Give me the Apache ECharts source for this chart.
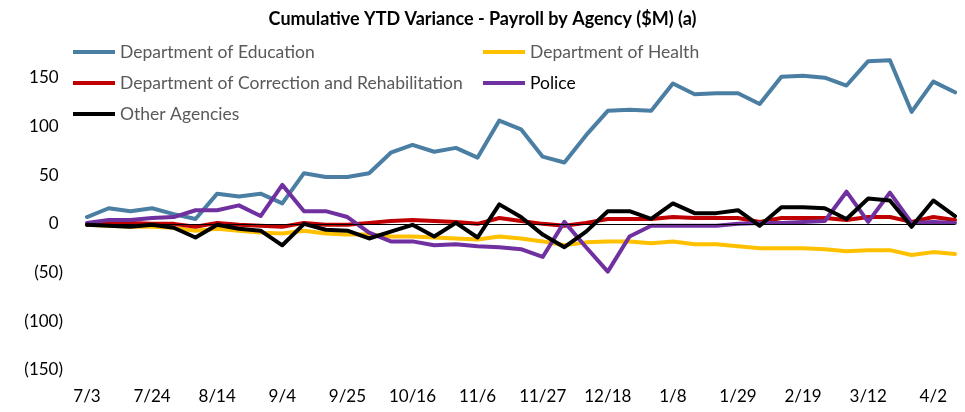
<!DOCTYPE html>
<html>
<head>
<meta charset="utf-8">
<script src="https://cdn.jsdelivr.net/npm/echarts@6/dist/echarts.min.js"></script>
<style>
html, body { margin: 0; padding: 0; background: #fff; }
#main { width: 965px; height: 412px; }
</style>
</head>
<body>
<div id="main"></div>
<script>
var weeks = ['7/3', '7/10', '7/17', '7/24', '7/31', '8/7', '8/14', '8/21', '8/28', '9/4',
             '9/11', '9/18', '9/25', '10/2', '10/9', '10/16', '10/23', '10/30', '11/6', '11/13',
             '11/20', '11/27', '12/4', '12/11', '12/18', '12/25', '1/1', '1/8', '1/15', '1/22',
             '1/29', '2/5', '2/12', '2/19', '2/26', '3/5', '3/12', '3/19', '3/26', '4/2', '4/9'];

var education  = [7, 16, 13, 16, 10, 5, 31, 28, 31, 21, 52, 48, 48, 52, 73, 81, 74, 78, 68, 106,
                  97, 69, 63, 91, 116, 117, 116, 144, 133, 134, 134, 123, 151, 152, 150, 142, 167, 168, 115, 146, 135];
var health     = [-1, -2, -3, -3, -4, -7, -5, -7, -9, -10, -7, -10, -11, -11, -13, -13, -14, -15, -16, -13,
                  -15, -18, -22, -19, -18, -18, -20, -18, -21, -21, -23, -25, -25, -25, -26, -28, -27, -27, -32, -29, -31];
var correction = [-1, 1, 1, 0, 0, -3, 1, -1, -2, -3, 1, -1, -1, 1, 3, 4, 3, 2, 0, 6,
                  3, 0, -2, 1, 5, 5, 5, 7, 6, 6, 6, 2, 6, 6, 6, 4, 7, 7, 2, 7, 4];
var police     = [1, 4, 4, 6, 7, 14, 14, 19, 8, 40, 13, 13, 7, -9, -18, -18, -22, -21, -23, -24,
                  -26, -34, 2, -24, -49, -13, -2, -2, -2, -2, 0, 1, 1, 2, 3, 33, 2, 32, 1, 2, 1];
var others     = [-1, -2, -3, -1, -4, -14, -1, -5, -7, -22, 0, -6, -7, -15, -8, -1, -13, 1, -14, 20,
                  7, -11, -24, -8, 13, 13, 5, 21, 11, 11, 14, -2, 17, 17, 16, 5, 26, 24, -3, 24, 8];

var seriesNames  = ['Department of Education', 'Department of Health',
                    'Department of Correction and Rehabilitation', 'Police', 'Other Agencies'];
var seriesData   = [education, health, correction, police, others];
var seriesColors = ['#4A7EA3', '#FFC000', '#C00000', '#7030A0', '#000000'];

var fontFamily = 'Lato, "Open Sans", sans-serif';

function makeLegend(name, left, top, color)
{
    return {
        left: left,
        top: top,
        padding: 0,
        icon: 'rect',
        itemWidth: 42,
        itemHeight: 4,
        selectedMode: false,
        textStyle: {color: color, fontSize: 17.5, fontFamily: fontFamily},
        data: [name]
    };
}

var chart  = echarts.init(document.getElementById('main'));
var series = seriesNames.map(function(name, i)
{
    var s = {
        name: name,
        type: 'line',
        data: seriesData[i],
        symbol: 'none',
        color: seriesColors[i],
        lineStyle: {width: 4, color: seriesColors[i], cap: 'round', join: 'round'},
        animation: false
    };
    if(i == 0)
    {
        // Zero line under the series
        s.markLine = {
            silent: true,
            symbol: 'none',
            label: {show: false},
            lineStyle: {color: '#000', width: 1, type: 'solid'},
            data: [{yAxis: 0}]
        };
    }
    return s;
});

var option = {
    backgroundColor: '#fff',
    textStyle: {fontFamily: fontFamily},
    title: {
        text: 'Cumulative YTD Variance - Payroll by Agency ($M) (a)',
        left: 'center',
        top: 5,
        textStyle: {color: '#000', fontSize: 18, fontWeight: 'bold', fontFamily: fontFamily}
    },
    legend: [
        makeLegend(seriesNames[0], 73, 43, '#595959'),
        makeLegend(seriesNames[1], 483, 43, '#595959'),
        makeLegend(seriesNames[2], 73, 74, '#595959'),
        makeLegend(seriesNames[3], 483, 74, '#000'),
        makeLegend(seriesNames[4], 73, 105, '#595959')
    ],
    grid: {left: 87, right: 10, top: 29, bottom: 42},
    xAxis: {
        type: 'category',
        data: weeks,
        boundaryGap: false,
        axisLine: {show: false},
        axisTick: {show: false},
        axisLabel: {interval: 2, color: '#000', fontSize: 17, margin: 18, fontFamily: fontFamily}
    },
    yAxis: {
        type: 'value',
        min: -150,
        max: 200,
        interval: 50,
        axisLine: {show: false},
        axisTick: {show: false},
        splitLine: {show: false},
        axisLabel: {
            color: '#000',
            fontSize: 17,
            margin: 24,
            fontFamily: fontFamily,
            formatter: function(v)
            {
                if(v == 200) return '';
                if(v < 0) return '(' + (-v) + ')';
                return v + '\u00a0';
            }
        }
    },
    series: series
};
chart.setOption(option);
</script>
</body>
</html>
